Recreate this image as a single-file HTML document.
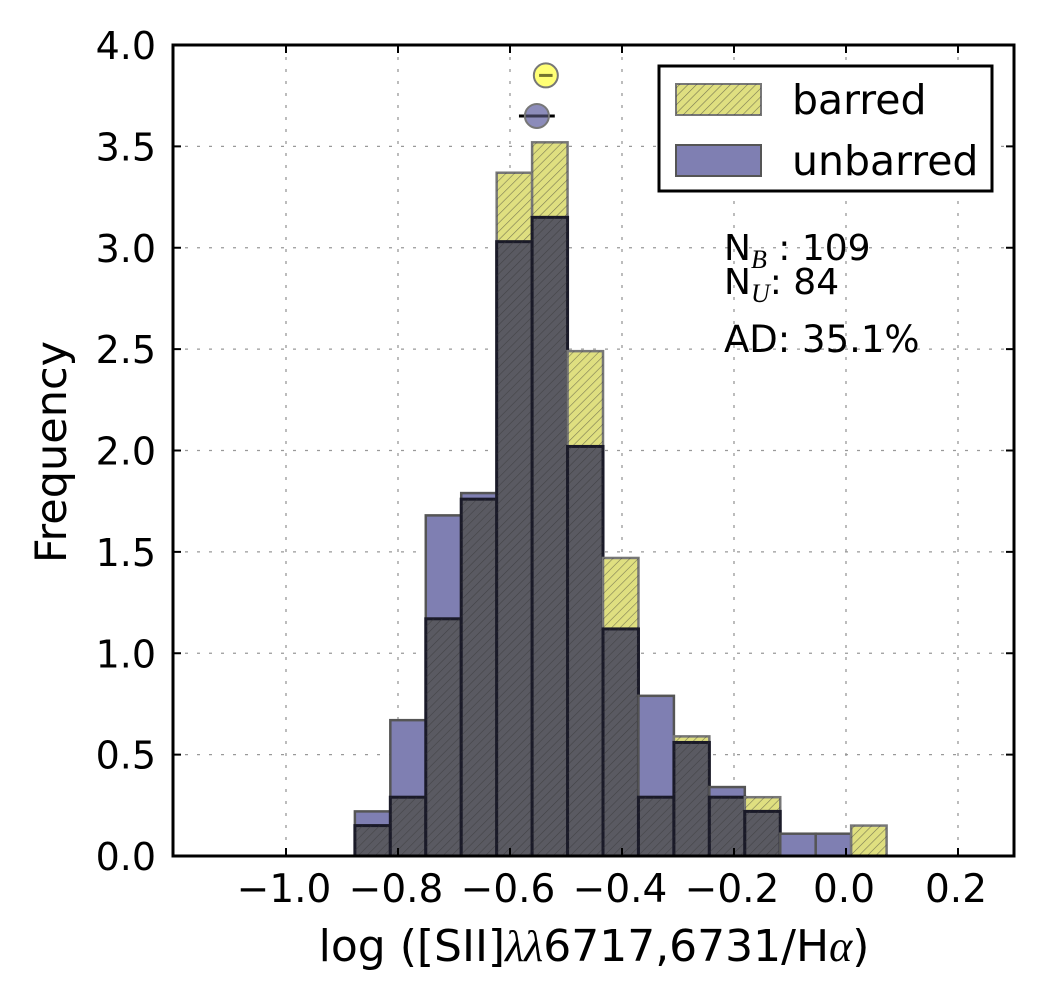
<!DOCTYPE html>
<html><head><meta charset="utf-8"><style>
html,body{margin:0;padding:0;background:#fff;}
svg{display:block;font-family:"DejaVu Sans","Liberation Sans",sans-serif;}
</style></head><body>
<svg id="chart" width="1042" height="1003" viewBox="0 0 1042 1003">
<defs>
<pattern id="hatch" patternUnits="userSpaceOnUse" width="6" height="6" patternTransform="rotate(45)">
<line x1="0" y1="0" x2="0" y2="6" stroke="#333" stroke-width="1.2" stroke-opacity="0.6"/>
</pattern>
</defs>
<g id="grid"></g>
<g id="bars"></g>
<g id="markers"></g>
<rect x="173" y="45" width="841" height="811" fill="none" stroke="#000" stroke-width="3"/>
<g id="ticks"></g>
<text x="594" y="961" font-size="44" text-anchor="middle">log ([SII]<tspan font-style="italic" font-family="Liberation Serif, serif">λλ</tspan>6717,6731/H<tspan font-style="italic" font-family="Liberation Serif, serif">α</tspan>)</text>
<text transform="translate(66,452) rotate(-90)" font-size="43" text-anchor="middle">Frequency</text>
<g>
<rect x="659" y="66" width="333" height="125" fill="#fff" stroke="#000" stroke-width="3"/>
<rect x="676" y="84" width="85" height="31" fill="#dfdf80" stroke="#777" stroke-width="2"/>
<rect x="676" y="84" width="85" height="31" fill="url(#hatch)"/>
<text x="792" y="114" font-size="41">barred</text>
<rect x="676" y="145" width="85" height="31" fill="#7f7fb2" stroke="#555" stroke-width="2"/>
<text x="792" y="175" font-size="41">unbarred</text>
</g>
<text x="724" y="260" font-size="36">N<tspan font-size="26" dy="8" font-style="italic" font-family="Liberation Serif, serif">B</tspan><tspan dy="-8"> : 109</tspan></text>
<text x="724" y="294" font-size="36">N<tspan font-size="26" dy="8" font-style="italic" font-family="Liberation Serif, serif">U</tspan><tspan dy="-8">: 84</tspan></text>
<text x="724" y="352" font-size="37">AD: 35.1%</text>
</svg>
<script>
const binEdges0 = -0.877;
const binWidth = 0.0633;
const barred   = [0.15,0.29,1.17,1.76,3.37,3.52,2.49,1.47,0.29,0.59,0.29,0.29,0,0,0.15];
const unbarred = [0.22,0.67,1.68,1.79,3.03,3.15,2.02,1.12,0.79,0.56,0.34,0.22,0.11,0.11,0];
const xTicks = [-1.0,-0.8,-0.6,-0.4,-0.2,0.0,0.2];
const xTickLabels = ["\u22121.0","\u22120.8","\u22120.6","\u22120.4","\u22120.2","0.0","0.2"];
const yTicks = [0,0.5,1.0,1.5,2.0,2.5,3.0,3.5,4.0];
const yTickLabels = ["0.0","0.5","1.0","1.5","2.0","2.5","3.0","3.5","4.0"];
const meanBarred = [-0.536, 3.85, 0.012];
const meanUnbarred = [-0.552, 3.65, 0.032];

const NS="http://www.w3.org/2000/svg";
const X=v=>286+(v+1.0)*560;
const Y=v=>856-v*202.75;
function mk(t,a,p){const e=document.createElementNS(NS,t);for(const k in a)e.setAttribute(k,a[k]);p.appendChild(e);return e;}
const grid=document.getElementById('grid'),bars=document.getElementById('bars'),ticks=document.getElementById('ticks'),markers=document.getElementById('markers');
xTicks.forEach((v,i)=>{
 const g=mk('line',{x1:X(v),x2:X(v),y1:45,y2:856,stroke:'#999','stroke-width':1.3,'stroke-dasharray':'3,9'},grid);
 
 
 const t1=mk('line',{x1:X(v),x2:X(v),y1:856,y2:848,stroke:'#000','stroke-width':2},ticks);
 
 
 const t2=mk('line',{x1:X(v),x2:X(v),y1:45,y2:53,stroke:'#000','stroke-width':2},ticks);
 
 
 const l=mk('text',{x:X(v)-2,y:902,'font-size':39,'text-anchor':'middle'},ticks);l.textContent=xTickLabels[i];
 
 
});
yTicks.forEach((v,i)=>{
 if(v>0&&v<4){const g=mk('line',{x1:173,x2:1014,y1:Y(v),y2:Y(v),stroke:'#999','stroke-width':1.3,'stroke-dasharray':'3,9'},grid);
 
 }
 const t1=mk('line',{x1:173,x2:181,y1:Y(v),y2:Y(v),stroke:'#000','stroke-width':2},ticks);
 
 
 const t2=mk('line',{x1:1006,x2:1014,y1:Y(v),y2:Y(v),stroke:'#000','stroke-width':2},ticks);
 
 
 const l=mk('text',{x:156,y:Y(v)+14,'font-size':38,'text-anchor':'end'},ticks);l.textContent=yTickLabels[i];
 
 
});
barred.forEach((b,i)=>{
 const u=unbarred[i];
 const x0=X(binEdges0+i*binWidth),x1=X(binEdges0+(i+1)*binWidth),w=x1-x0;
 if(b>0){const r=mk('rect',{x:x0,y:Y(b),width:w,height:Y(0)-Y(b),fill:'#dfdf80',stroke:'#777','stroke-width':2.5},bars);
  
  
  const h=mk('rect',{x:x0,y:Y(b),width:w,height:Y(0)-Y(b),fill:'url(#hatch)'},bars);
  
  }
 if(u>0){const r=mk('rect',{x:x0,y:Y(u),width:w,height:Y(0)-Y(u),fill:'#7f7fb2',stroke:'#555','stroke-width':2.5},bars);
  
  }
 const m=Math.min(b,u);
 if(m>0){const r=mk('rect',{x:x0,y:Y(m),width:w,height:Y(0)-Y(m),fill:'#5a5a62',stroke:'#1a1a28','stroke-width':3},bars);
  
  
  const h=mk('rect',{x:x0,y:Y(m),width:w,height:Y(0)-Y(m),fill:'url(#hatch)'},bars);
  
  }
});
[[meanBarred,'#ffff66','mean-barred'],[meanUnbarred,'#7f7fb2','mean-unbarred']].forEach(([m,c,n])=>{
 const e=mk('line',{x1:X(m[0]-m[2]),x2:X(m[0]+m[2]),y1:Y(m[1]),y2:Y(m[1]),stroke:'#000','stroke-width':3},markers);
 
 
 const c1=mk('circle',{cx:X(m[0]),cy:Y(m[1]),r:12,fill:c,stroke:'#777','stroke-width':2,'fill-opacity':0.9},markers);
 
 
 const e2=mk('line',{x1:X(m[0]-Math.min(m[2],0.02)),x2:X(m[0]+Math.min(m[2],0.02)),y1:Y(m[1]),y2:Y(m[1]),stroke:'#000','stroke-width':3,'stroke-opacity':0.5},markers);
 
 
});
</script>
</body></html>
